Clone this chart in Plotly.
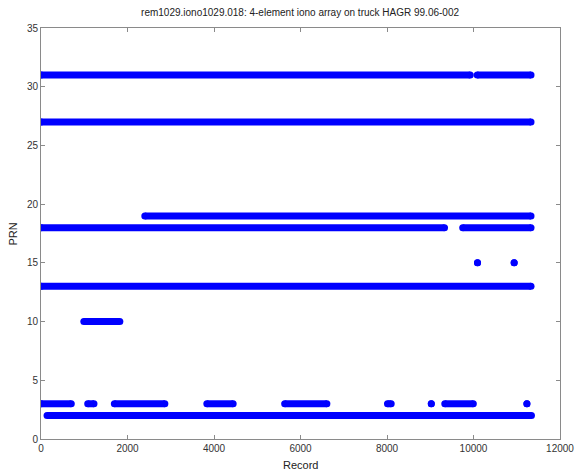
import plotly.graph_objects as go

title_text = "rem1029.iono1029.018: 4-element iono array on truck HAGR 99.06-002"
x_label = "Record"
y_label = "PRN"

# PRN numbers and their tracking segments (start record, end record)
prn_list = [31, 27, 19, 18, 15, 13, 10, 3, 2]
prn31_segments = [(0, 9925), (10085, 11330)]
prn27_segments = [(0, 11330)]
prn19_segments = [(2400, 11330)]
prn18_segments = [(0, 9330), (9750, 11330)]
prn15_segments = [(10093, 10093), (10940, 10940)]
prn13_segments = [(0, 11330)]
prn10_segments = [(990, 1823)]
prn3_segments = [(0, 700), (1080, 1225), (1696, 2864), (3834, 4443),
                 (5634, 6610), (8011, 8097), (9024, 9024), (9336, 9996),
                 (11235, 11235)]
prn2_segments = [(140, 11340)]

segments_by_prn = [prn31_segments, prn27_segments, prn19_segments,
                   prn18_segments, prn15_segments, prn13_segments,
                   prn10_segments, prn3_segments, prn2_segments]

x_tickvals = [0, 2000, 4000, 6000, 8000, 10000, 12000]
x_ticktext = ["0", "2000", "4000", "6000", "8000", "10000", "12000"]
y_tickvals = [0, 5, 10, 15, 20, 25, 30, 35]

fig = go.Figure()
for prn, segs in zip(prn_list, segments_by_prn):
    xs, ys = [], []
    for s, e in segs:
        xs += [s, e, None]
        ys += [prn, prn, None]
    fig.add_trace(go.Scatter(
        x=xs, y=ys, mode="lines+markers",
        line=dict(color="#0000ff", width=7),
        marker=dict(color="#0000ff", size=7, line=dict(width=0)),
        showlegend=False, connectgaps=False, hoverinfo="skip",
    ))

font_family = "Liberation Sans, Arial, sans-serif"
axis_common = dict(
    showline=True, linecolor="#8a8a8a", linewidth=1, mirror="ticks",
    ticks="inside", ticklen=4, tickcolor="#8a8a8a",
    showgrid=False, zeroline=False, automargin=False,
    tickfont=dict(family=font_family, size=10, color="#333333"),
)
fig.update_xaxes(range=[0, 12000], tickvals=x_tickvals, ticktext=x_ticktext,
                 **axis_common)
fig.update_yaxes(range=[0, 35], tickvals=y_tickvals, **axis_common)

label_font = dict(family=font_family, size=11, color="#222222")
fig.add_annotation(text=y_label, xref="paper", yref="paper",
                   x=-0.054, y=0.5, xanchor="center", yanchor="middle",
                   textangle=-90, showarrow=False, font=label_font)
fig.add_annotation(text=x_label, xref="paper", yref="paper",
                   x=0.5, y=-0.063, xanchor="center", yanchor="middle",
                   showarrow=False, font=label_font)

fig.update_layout(
    width=577, height=474,
    margin=dict(l=41, r=17, t=28, b=35),
    paper_bgcolor="white", plot_bgcolor="white",
    title=dict(text=title_text, x=0.52, xanchor="center", y=0.973, yanchor="middle",
               font=dict(family=font_family, size=10, color="#222222")),
)

fig.write_html(
    "out.html",
    config={"displayModeBar": False},
    post_script="document.body.style.margin='0';document.body.style.overflow='hidden';",
)
